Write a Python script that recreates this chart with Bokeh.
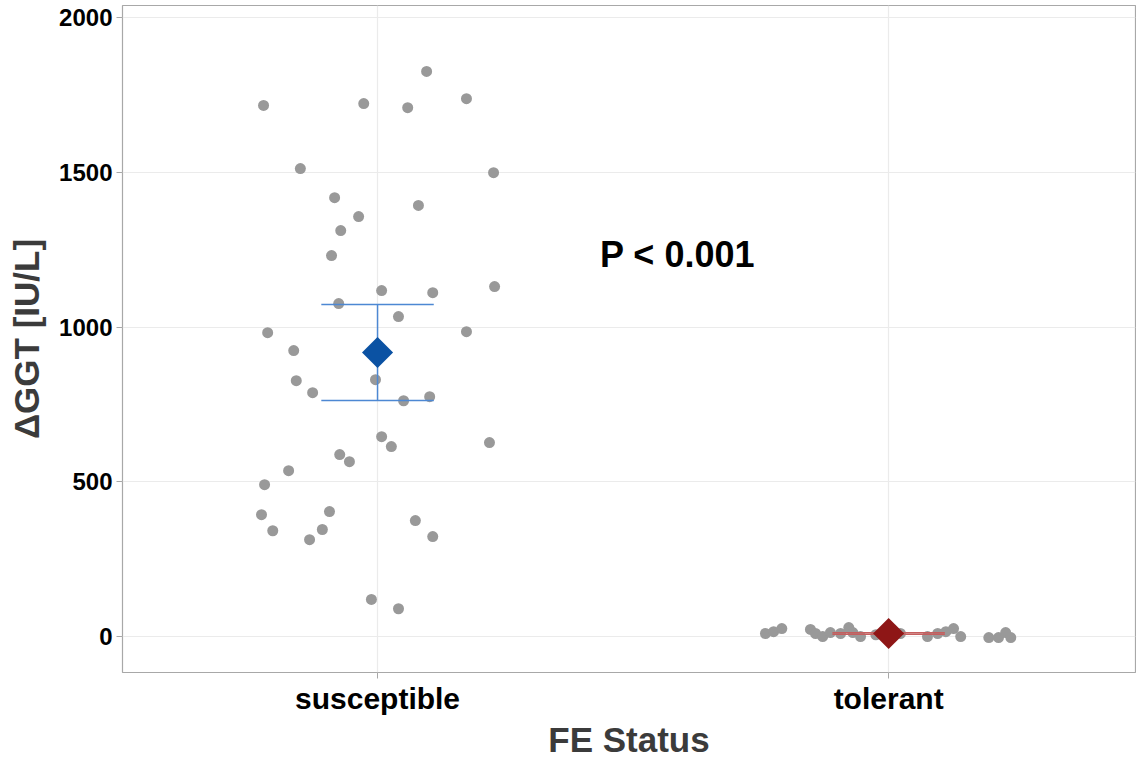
import math
from bokeh.plotting import figure
from bokeh.models import Range1d, FixedTicker, Title
from bokeh.embed import file_html
from bokeh.resources import INLINE
from bokeh.core.properties import value

categories = ["susceptible", "tolerant"]
sus_jitter = [-0.223, -0.027, 0.059, 0.096, 0.174, -0.151, 0.227, -0.084, 0.080, -0.037,
              -0.072, -0.090, 0.008, 0.108, 0.229, -0.076, 0.041, 0.174, -0.215, -0.164,
              -0.159, -0.127, -0.004, 0.051, 0.102, 0.008, 0.027, 0.219, -0.074, -0.055,
              -0.174, -0.221, -0.227, -0.205, -0.094, -0.108, -0.133, 0.074, 0.108, -0.012, 0.041]
sus_values = [1716, 1722, 1709, 1826, 1738, 1512, 1499, 1418, 1393, 1357,
              1312, 1231, 1118, 1111, 1131, 1076, 1034, 985, 982, 924,
              827, 788, 830, 762, 775, 646, 614, 627, 588, 565,
              536, 491, 394, 342, 404, 346, 313, 375, 323, 120, 90]
tol_jitter = [-0.241, -0.225, -0.209, -0.153, -0.143, -0.129, -0.114, -0.094, -0.078, -0.070,
              -0.055, -0.025, 0.023, 0.076, 0.096, 0.112, 0.127, 0.141, 0.196, 0.215, 0.229, 0.239]
tol_values = [10, 16, 26, 23, 10, 0, 13, 10, 29, 13,
              0, 6, 10, 0, 10, 16, 26, 0, -3, -3, 13, -3]
group_means = [918, 10]
group_se = [155, 2.5]
mean_colors = ["#0b52a3", "#8e1616"]
bar_colors = ["#4d88d3", "#c45f5f"]
p_label = "P < 0.001"
x_title = "FE Status"
y_title = "\u0394GGT [IU/L]"

FONT = "Liberation Sans"

p = figure(width=1136, height=758, output_backend="svg", toolbar_location=None,
           x_range=Range1d(0.501, 2.483), y_range=Range1d(-116, 2039),
           min_border_left=122, min_border_right=1, min_border_top=5, min_border_bottom=86)

p.background_fill_color = "white"
p.border_fill_color = "white"
p.outline_line_color = "#a8a8a8"
p.outline_line_width = 1.2

p.xgrid.grid_line_color = "#ebebeb"
p.ygrid.grid_line_color = "#ebebeb"
p.xgrid.grid_line_width = 1.2
p.ygrid.grid_line_width = 1.2

# points
xs = [1 + j for j in sus_jitter] + [2 + j for j in tol_jitter]
ys = sus_values + tol_values
p.scatter(xs, ys, size=11, color="#999999", line_color=None)

# error bars and means
for i, (m, se) in enumerate(zip(group_means, group_se)):
    cx = i + 1
    lo, hi = m - se, m + se
    p.segment(x0=[cx], y0=[lo], x1=[cx], y1=[hi], line_color=bar_colors[i], line_width=1.5)
    p.segment(x0=[cx - 0.11, cx - 0.11], y0=[lo, hi], x1=[cx + 0.11, cx + 0.11], y1=[lo, hi],
              line_color=bar_colors[i], line_width=1.5)
    p.scatter([cx], [m], marker="square", size=22, angle=math.pi / 4,
              color=mean_colors[i], line_color=None)

p.text(x=[1.587], y=[1234], text=[p_label], text_font=value(FONT), text_font_style="bold",
       text_font_size="36px", text_color="black", text_align="center", text_baseline="middle")

# axes
p.xaxis.ticker = FixedTicker(ticks=[1, 2])
p.xaxis.major_label_overrides = {1: categories[0], 2: categories[1]}
p.yaxis.ticker = FixedTicker(ticks=[0, 500, 1000, 1500, 2000])
p.xgrid.ticker = FixedTicker(ticks=[1, 2])
p.ygrid.ticker = FixedTicker(ticks=[0, 500, 1000, 1500, 2000])

for ax in (p.xaxis[0], p.yaxis[0]):
    ax.axis_line_color = None
    ax.major_tick_line_color = "#a8a8a8"
    ax.major_tick_in = 0
    ax.major_tick_out = 6
    ax.minor_tick_line_color = None
    ax.major_label_text_font = FONT
    ax.major_label_text_font_style = "bold"
    ax.major_label_text_color = "black"
    ax.axis_label_text_font = FONT
    ax.axis_label_text_font_style = "bold"
    ax.axis_label_text_color = "#3b3b3b"
    ax.axis_label_text_font_size = "35px"

p.yaxis.axis_label = y_title
p.xaxis.major_label_text_font_size = "30px"
p.yaxis.major_label_text_font_size = "24px"
p.xaxis.major_label_standoff = 3
p.yaxis.major_label_standoff = 4
p.yaxis.axis_label_standoff = 10

# x-axis title as a title panel below the axis
p.add_layout(Title(text=x_title, align="center", text_font=FONT, text_font_style="bold",
                   text_font_size="35px", text_color="#3b3b3b", standoff=0, offset=0),
             "below")

open("out.html", "w").write(file_html(p, INLINE))
